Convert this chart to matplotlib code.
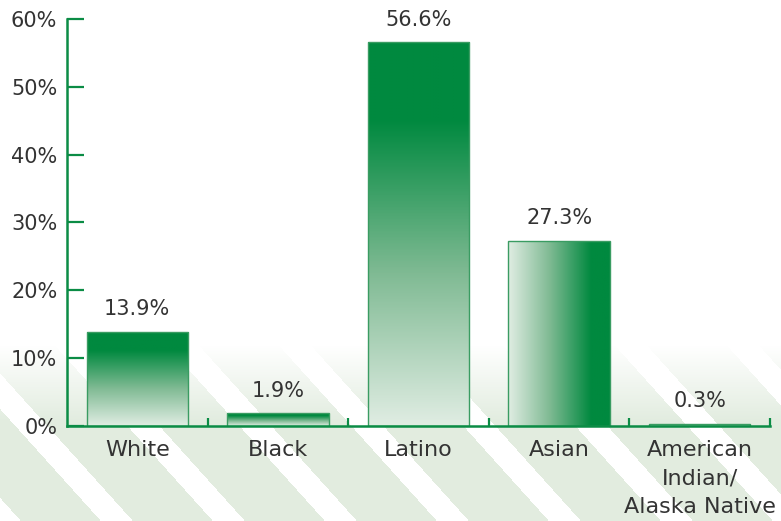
import matplotlib.pyplot as plt
import numpy as np
from matplotlib.colors import LinearSegmentedColormap

categories = ["White", "Black", "Latino", "Asian", "American\nIndian/\nAlaska Native"]
values = [13.9, 1.9, 56.6, 27.3, 0.3]
labels = ["13.9%", "1.9%", "56.6%", "27.3%", "0.3%"]
gradient_dir = ["v", "v", "v", "h", "v"]
yticks = [0, 10, 20, 30, 40, 50, 60]

green = "#00893f"
axis_green = "#0b8c45"
text_col = "#333333"

fig = plt.figure(figsize=(7.81, 5.21), dpi=100)

# faint diagonal stripes behind the chart
bg = fig.add_axes([0, 0, 1, 1], zorder=0)
H, W = 521, 781
r, c = np.mgrid[0:H, 0:W]
stripe = (((c - r * 0.9) % 112) < 80).astype(float)
fade = np.clip((r - 345) / 75.0, 0, 1)
rgba = np.zeros((H, W, 4))
rgba[..., 0] = 0.86
rgba[..., 1] = 0.91
rgba[..., 2] = 0.85
rgba[..., 3] = stripe * fade * 0.8
bg.imshow(rgba, aspect="auto", extent=[0, 1, 0, 1], origin="upper")
bg.set_axis_off()

ax = fig.add_axes([67 / 781, 95 / 521, 703 / 781, 407 / 521], zorder=1)
ax.patch.set_alpha(0)

cmap = LinearSegmentedColormap.from_list("g", ["#e0ede3", "#7fba93", green])
x = np.arange(len(values))
bw = 0.72
bars = ax.bar(x, values, width=bw, color="none", edgecolor="#3a9c62", linewidth=1.0, zorder=3)

for xi, v, d, b in zip(x, values, gradient_dir, bars):
    t = np.linspace(0, 1, 256)
    if d == "v":
        # dark at the top, light at bottom
        prof = np.clip(t / 0.8, 0, 1)[:, None]
    else:
        # light on the left, dark on the right
        prof = np.clip(t / 0.82, 0, 1)[None, :]
    img = ax.imshow(prof, cmap=cmap, vmin=0, vmax=1, aspect="auto",
                    extent=[xi - bw / 2, xi + bw / 2, 0, v], origin="lower", zorder=2)
    img.set_clip_path(b)
    ax.annotate(labels[xi], (xi, v), xytext=(0, 9), textcoords="offset points",
                ha="center", va="bottom", fontsize=15, color=text_col)

ax.set_xlim(-0.5, 4.5)
ax.set_ylim(0, 60)
ax.set_yticks(yticks)
ax.set_yticklabels([f"{t}%" for t in yticks], fontsize=15, color=text_col)
ax.set_xticks(x)
ax.set_xticklabels(categories, fontsize=16, color=text_col, linespacing=1.55)
ax.set_xticks(np.arange(-0.5, 5, 1)[1:], minor=True)
ax.tick_params(axis="x", which="major", length=0, pad=10)
ax.tick_params(axis="x", which="minor", direction="in", length=6, width=1.6, color=axis_green)
ax.tick_params(axis="y", direction="in", length=12.5, width=1.6, color=axis_green, pad=7)
ax.get_yticklines()[-2].set_color("#222222")

for s in ["top", "right"]:
    ax.spines[s].set_visible(False)
for s in ["left", "bottom"]:
    ax.spines[s].set_color(axis_green)
    ax.spines[s].set_linewidth(1.8)
    ax.spines[s].set_zorder(4)

fig.savefig("out.png", dpi=100)
